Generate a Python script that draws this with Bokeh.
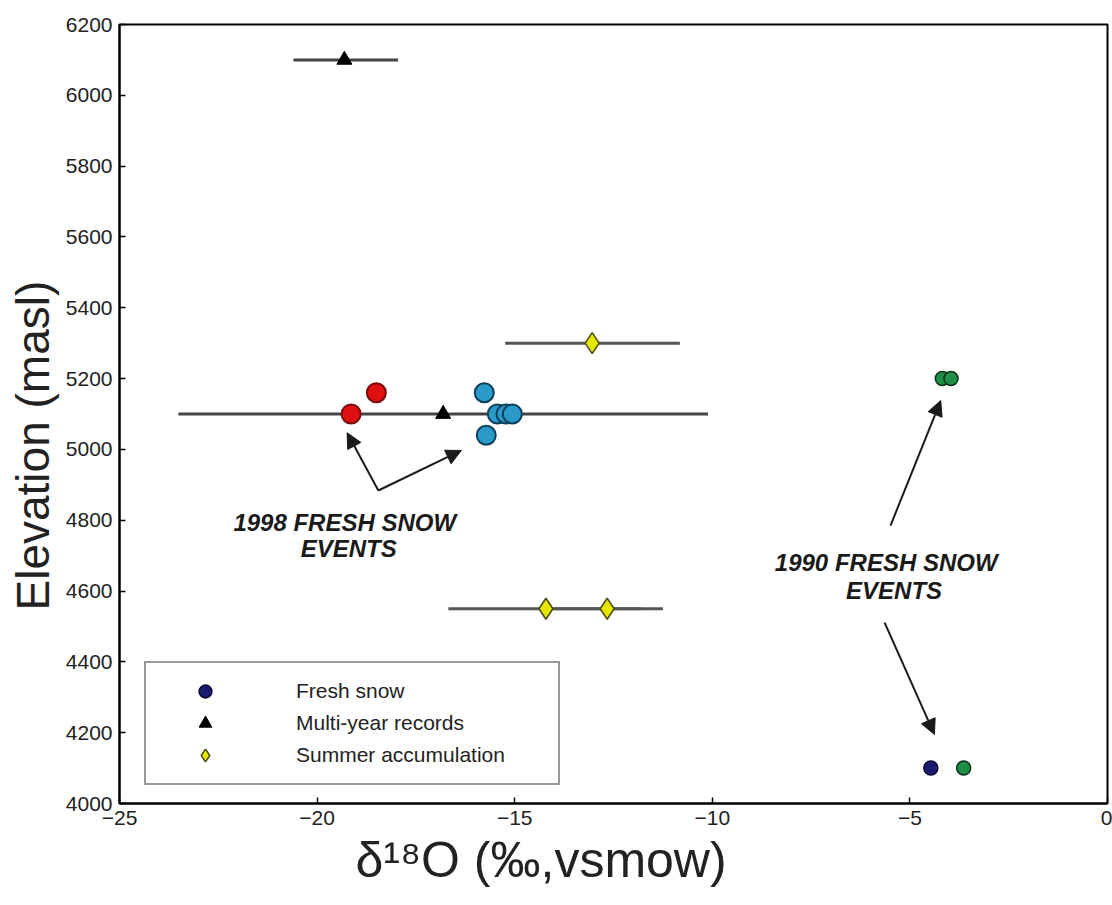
from bokeh.plotting import figure
from bokeh.models import (Range1d, FixedTicker, Label, Arrow, NormalHead,
                          Legend, LegendItem, Title)
from bokeh.embed import file_html
from bokeh.resources import INLINE

FONT = "Liberation Sans"

# ---- data ----
# Fresh snow events (circles)
red_x = [-19.14, -18.5]
red_y = [5100, 5160]
blue_x = [-15.77, -15.72, -15.44, -15.22, -15.06]
blue_y = [5160, 5040, 5100, 5100, 5100]
green_x = [-4.18, -3.96, -3.64]
green_y = [5200, 5200, 4100]
navy_x = [-4.47]
navy_y = [4100]

# Multi-year records (triangles) with horizontal range
multi_x = [-19.31, -16.81]
multi_y = [6100, 5100]
multi_lo = [-20.6, -23.51]
multi_hi = [-17.95, -10.11]

# Summer accumulation (diamonds) with horizontal range
summer_x = [-13.04, -14.21, -12.66]
summer_y = [5300, 4550, 4550]
summer_lo = [-15.24, -16.68, -14.0]
summer_hi = [-10.82, -11.8, -11.25]

x_ticks = [-25, -20, -15, -10, -5, 0]
y_ticks = [4000, 4200, 4400, 4600, 4800, 5000, 5200, 5400, 5600, 5800, 6000, 6200]

x_title = "δ¹⁸O (‰,vsmow)"
y_title = "Elevation (masl)"

# annotations
ann1_lines = ["1998 FRESH SNOW", "EVENTS"]
ann1_x = [-19.3, -19.2]
ann1_y = [4793, 4720]
ann1_arrow_start = (-18.45, 4884)
ann1_arrow_ends = [(-19.24, 5047), (-16.35, 4997)]

ann2_lines = ["1990 FRESH SNOW", "EVENTS"]
ann2_x = [-5.6, -5.4]
ann2_y = [4680, 4601]
ann2_arrows = [((-5.49, 4785), (-4.22, 5138)), ((-5.64, 4511), (-4.38, 4195))]

# ---- figure ----
p = figure(width=1112, height=905, output_backend="svg", toolbar_location=None,
           x_range=Range1d(-25, 0), y_range=Range1d(4000, 6200),
           min_border_left=118, min_border_right=5, min_border_top=24, min_border_bottom=102)
p.grid.visible = False
p.outline_line_color = "black"
p.outline_line_width = 2
p.background_fill_color = "white"
p.border_fill_color = "white"

for ax in p.xaxis + p.yaxis:
    ax.axis_line_color = "black"
    ax.axis_line_width = 2
    ax.major_tick_in = 6
    ax.major_tick_out = 0
    ax.minor_tick_line_color = None
    ax.major_tick_line_color = "black"
    ax.major_tick_line_width = 1.5
    ax.major_label_text_font = FONT
    ax.major_label_text_font_size = "21px"
    ax.major_label_text_color = "#222222"
    ax.major_label_standoff = 7

p.xaxis.ticker = FixedTicker(ticks=x_ticks)
p.yaxis.ticker = FixedTicker(ticks=y_ticks)

# axis titles, placed off-centre as in the source
p.add_layout(Title(text=x_title, align="left", offset=236, standoff=4, vertical_align="bottom",
                   text_font=FONT, text_font_size="50px", text_font_style="normal",
                   text_color="#222222"), "below")
p.add_layout(Title(text=y_title, align="left", offset=193, standoff=8,
                   text_font=FONT, text_font_size="46px", text_font_style="normal",
                   text_color="#222222"), "left")

# error bars
p.segment(x0=multi_lo, y0=multi_y, x1=multi_hi, y1=multi_y, line_color="#444444", line_width=3)
p.segment(x0=summer_lo, y0=summer_y, x1=summer_hi, y1=summer_y, line_color="#555555", line_width=3)

# points
r_multi = p.scatter(multi_x, multi_y, marker="triangle", size=15, fill_color="black", line_color="black")
r_summer = p.scatter(summer_x, summer_y, marker="diamond", size=21, fill_color="#E6E600",
                     line_color="#4A4A10", line_width=1.5)
p.scatter(red_x, red_y, marker="circle", size=19, fill_color="#E01010", line_color="#7A0A0A", line_width=2)
p.scatter(blue_x, blue_y, marker="circle", size=19, fill_color="#2A9BC9", line_color="#0E3F5C", line_width=2)
p.scatter(green_x, green_y, marker="circle", size=14, fill_color="#1F8F45", line_color="#0A2E16", line_width=1.5)
r_navy = p.scatter(navy_x, navy_y, marker="circle", size=14, fill_color="#1A1A70", line_color="#05052A", line_width=1.5)

# annotations
for txt, x, y in zip(ann1_lines + ann2_lines, ann1_x + ann2_x, ann1_y + ann2_y):
    p.add_layout(Label(x=x, y=y, text=txt, text_align="center", text_baseline="middle",
                       text_font=FONT, text_font_size="24px", text_font_style="bold italic",
                       text_color="#1a1a1a"))

arrow_list = [(ann1_arrow_start, e) for e in ann1_arrow_ends] + ann2_arrows
for (s, e) in arrow_list:
    p.add_layout(Arrow(x_start=s[0], y_start=s[1], x_end=e[0], y_end=e[1],
                       line_color="#1a1a1a", line_width=2,
                       end=NormalHead(size=15, fill_color="#1a1a1a", line_color="#1a1a1a")))

legend = Legend(items=[LegendItem(label="Fresh snow", renderers=[r_navy]),
                       LegendItem(label="Multi-year records", renderers=[r_multi]),
                       LegendItem(label="Summer accumulation", renderers=[r_summer])],
                location=(25, 18), margin=0, padding=12, spacing=-7,
                glyph_width=94, glyph_height=32, label_standoff=44, label_width=250,
                label_text_font=FONT, label_text_font_size="21px", label_text_color="#222222",
                border_line_color="#333333", border_line_width=2.5,
                background_fill_color="white", background_fill_alpha=1)
p.add_layout(legend, "center")

open("out.html", "w").write(file_html(p, INLINE))
